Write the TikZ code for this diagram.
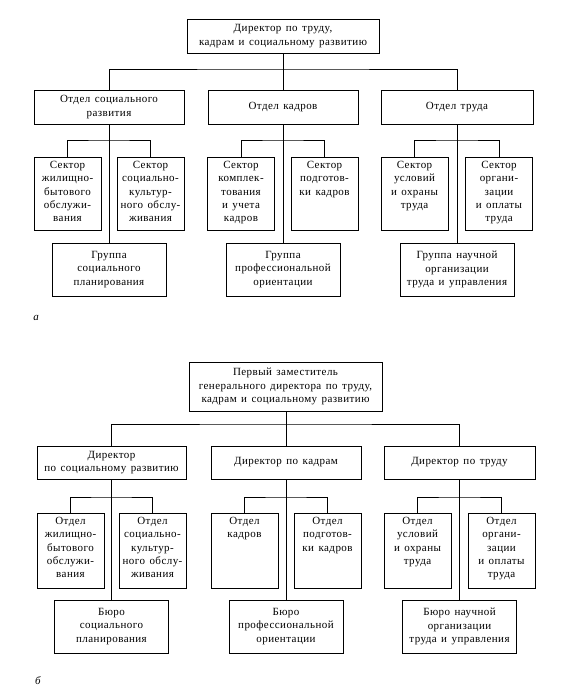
\documentclass[tikz,border=0pt]{standalone}
\usepackage{fontspec}
\setmainfont{Liberation Serif}[LetterSpace=4,WordSpace=1.4]
\newcommand{\toptxt}[3]{\parbox[c][#1][t]{#2}{\centering #3}}
\begin{document}
\begin{tikzpicture}[x=1pt,y=-1pt,
  every node/.style={font=\fontsize{11}{13.2}\selectfont},
  box/.style={draw,line width=1pt,inner sep=2pt,align=center},
  sect/.style={draw,line width=1pt,inner sep=0pt,minimum width=67pt},
  link/.style={line width=1pt}]
\useasboundingbox (0,0) rectangle (565,694);
% ---------- part a ----------
\node[box,minimum width=192pt,minimum height=34pt] (atop) at (283,36) {Директор по труду,\\кадрам и социальному развитию};
\node[box,minimum width=150pt,minimum height=34pt] (aL1) at (109,107) {Отдел социального\\развития};
\node[box,minimum width=150pt,minimum height=34pt] (aL2) at (283,107) {Отдел кадров};
\node[box,minimum width=152pt,minimum height=34pt] (aL3) at (457,107) {Отдел труда};
\node[sect] (aS1a) at (67.5,193.5) {\toptxt{73pt}{65pt}{\vspace{4.5pt}Сектор\\жилищно-\\бытового\\обслужи-\\вания}};
\node[sect] (aS1b) at (150.5,193.5) {\toptxt{73pt}{65pt}{\vspace{4.5pt}Сектор\\социально-\\культур-\\ного обслу-\\живания}};
\node[sect] (aS2a) at (241,193.5) {\toptxt{73pt}{65pt}{\vspace{4.5pt}Сектор\\комплек-\\тования\\и учета\\кадров}};
\node[sect] (aS2b) at (324.5,193.5) {\toptxt{73pt}{65pt}{\vspace{4.5pt}Сектор\\подготов-\\ки кадров}};
\node[sect] (aS3a) at (414.5,193.5) {\toptxt{73pt}{65pt}{\vspace{4.5pt}Сектор\\условий\\и охраны\\труда}};
\node[sect] (aS3b) at (499,193.5) {\toptxt{73pt}{65pt}{\vspace{4.5pt}Сектор\\органи-\\зации\\и оплаты\\труда}};
\node[box,minimum width=114pt,minimum height=53pt] (aG1) at (109,269.5) {Группа\\социального\\планирования};
\node[box,minimum width=114pt,minimum height=53pt] (aG2) at (283,269.5) {Группа\\профессиональной\\ориентации};
\node[box,minimum width=114pt,minimum height=53pt] (aG3) at (457,269.5) {Группа научной\\организации\\труда и управления};
\node[font=\fontsize{11}{13}\selectfont\itshape] (alab) at (36,318) {а};
\coordinate (ah) at (283,69);
\coordinate (aj1) at (109,140);
\coordinate (aj2) at (283,140);
\coordinate (aj3) at (457,140);
\draw[link] (atop.south) -- (ah);
\draw[link] (aL1.north) |- (ah) -| (aL3.north);
\draw[link] (ah) -- (aL2.north);
\draw[link] (aL1.south) -- (aG1.north);
\draw[link] (aL2.south) -- (aG2.north);
\draw[link] (aL3.south) -- (aG3.north);
\draw[link] (aS1a.north) |- (aj1) -| (aS1b.north);
\draw[link] (aS2a.north) |- (aj2) -| (aS2b.north);
\draw[link] (aS3a.north) |- (aj3) -| (aS3b.north);
% ---------- part b ----------
\node[box,minimum width=193pt,minimum height=49pt] (btop) at (285.5,386.5) {Первый заместитель\\генерального директора по труду,\\кадрам и социальному развитию};
\node[box,minimum width=149pt,minimum height=33pt] (bL1) at (111.5,462.5) {Директор\\по социальному развитию};
\node[box,minimum width=150pt,minimum height=33pt] (bL2) at (286,462.5) {Директор по кадрам};
\node[box,minimum width=151pt,minimum height=33pt] (bL3) at (459.5,462.5) {Директор по труду};
\node[sect] (bS1a) at (70.5,550.5) {\toptxt{75pt}{65pt}{\vspace{4.5pt}Отдел\\жилищно-\\бытового\\обслужи-\\вания}};
\node[sect] (bS1b) at (152.5,550.5) {\toptxt{75pt}{65pt}{\vspace{4.5pt}Отдел\\социально-\\культур-\\ного обслу-\\живания}};
\node[sect] (bS2a) at (244.5,550.5) {\toptxt{75pt}{65pt}{\vspace{4.5pt}Отдел\\кадров}};
\node[sect] (bS2b) at (327.5,550.5) {\toptxt{75pt}{65pt}{\vspace{4.5pt}Отдел\\подготов-\\ки кадров}};
\node[sect] (bS3a) at (417.5,550.5) {\toptxt{75pt}{65pt}{\vspace{4.5pt}Отдел\\условий\\и охраны\\труда}};
\node[sect] (bS3b) at (501.5,550.5) {\toptxt{75pt}{65pt}{\vspace{4.5pt}Отдел\\органи-\\зации\\и оплаты\\труда}};
\node[box,minimum width=114pt,minimum height=53pt] (bG1) at (111.5,626.5) {Бюро\\социального\\планирования};
\node[box,minimum width=114pt,minimum height=53pt] (bG2) at (286,626.5) {Бюро\\профессиональной\\ориентации};
\node[box,minimum width=114pt,minimum height=53pt] (bG3) at (459.5,626.5) {Бюро научной\\организации\\труда и управления};
\node[font=\fontsize{11}{13}\selectfont\itshape] (blab) at (38,681) {б};
\coordinate (bh) at (286,424);
\coordinate (bj1) at (111.5,497);
\coordinate (bj2) at (286,497);
\coordinate (bj3) at (459.5,497);
\draw[link] (btop.south -| bh) -- (bh);
\draw[link] (bL1.north) |- (bh) -| (bL3.north);
\draw[link] (bh) -- (bL2.north);
\draw[link] (bL1.south) -- (bG1.north);
\draw[link] (bL2.south) -- (bG2.north);
\draw[link] (bL3.south) -- (bG3.north);
\draw[link] (bS1a.north) |- (bj1) -| (bS1b.north);
\draw[link] (bS2a.north) |- (bj2) -| (bS2b.north);
\draw[link] (bS3a.north) |- (bj3) -| (bS3b.north);
\end{tikzpicture}
\end{document}
